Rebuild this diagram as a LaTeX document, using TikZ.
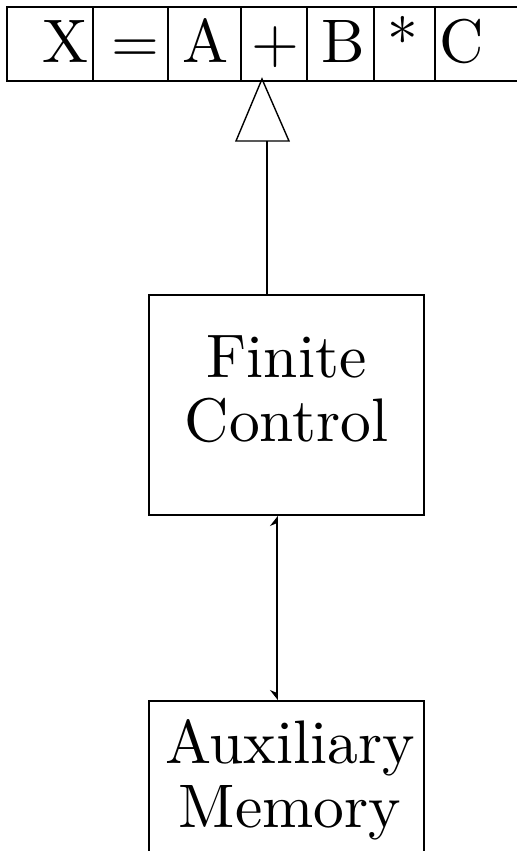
\documentclass[tikz,border=0pt]{standalone}
\usetikzlibrary{arrows.meta,fit}
\newcommand\sbx[1]{\scalebox{3.075}{#1}}
\renewcommand\arraystretch{0.88}
\begin{document}
\begin{tikzpicture}[x=0.5pt,y=-0.5pt,
  cell/.style={draw, line width=1pt},
  box/.style={draw, line width=1pt, inner sep=0pt},
  lbl/.style={inner sep=0pt, anchor=base},
  conn/.style={line width=1pt}]
\useasboundingbox (0,0) rectangle (517,851);
\clip (0,0) rectangle (517,851);
% tape cells
\foreach \a/\b in {7/93, 93/168, 168/241, 241/307, 307/374, 374/435, 435/560}
  \draw[cell] (\a,7) rectangle (\b,81);
% tape symbols
\node[lbl] (sX) at (66,62) {\sbx{X}};
\node[lbl] (sEq) at (135.5,62) {\sbx{$=$}};
\node[lbl] (sA) at (206,62) {\sbx{A}};
\node[lbl] (sPlus) at (275.5,62) {\sbx{$+$}};
\node[lbl] (sB) at (343.5,62) {\sbx{B}};
\node[lbl] (sStar) at (403,62) {\sbx{*}};
\node[lbl] (sC) at (462,62) {\sbx{C}};
% finite control
\coordinate (fc1) at (149,295);
\coordinate (fc2) at (424,515);
\node[box, fit=(fc1)(fc2)] (fc) {};
\node[lbl] (fct) at (286.5,377) {\sbx{\begin{tabular}[t]{@{}c@{}}Finite\\Control\end{tabular}}};
% auxiliary memory
\coordinate (am1) at (149,701);
\coordinate (am2) at (424,900);
\node[box, fit=(am1)(am2)] (am) {};
\node[lbl] (amt) at (290,763) {\sbx{\begin{tabular}[t]{@{}c@{}}Auxiliary\\Memory\end{tabular}}};
% head pointer
\coordinate (ap) at (262,79);
\coordinate (sx) at (267,0);
\coordinate (tb) at (0,141);
\draw[line width=0.7pt, line join=miter] (ap) -- ++(-26,62) -- ++(53,0) -- cycle;
\draw[conn] (fc.north -| sx) -- (tb -| sx);
% memory link
\coordinate (ax) at (277,0);
\draw[conn, {Stealth[length=4.5pt,width=7pt,harpoon]}-{Stealth[length=4.5pt,width=7pt,harpoon,swap]}] (fc.south -| ax) -- (am.north -| ax);
\end{tikzpicture}
\end{document}
